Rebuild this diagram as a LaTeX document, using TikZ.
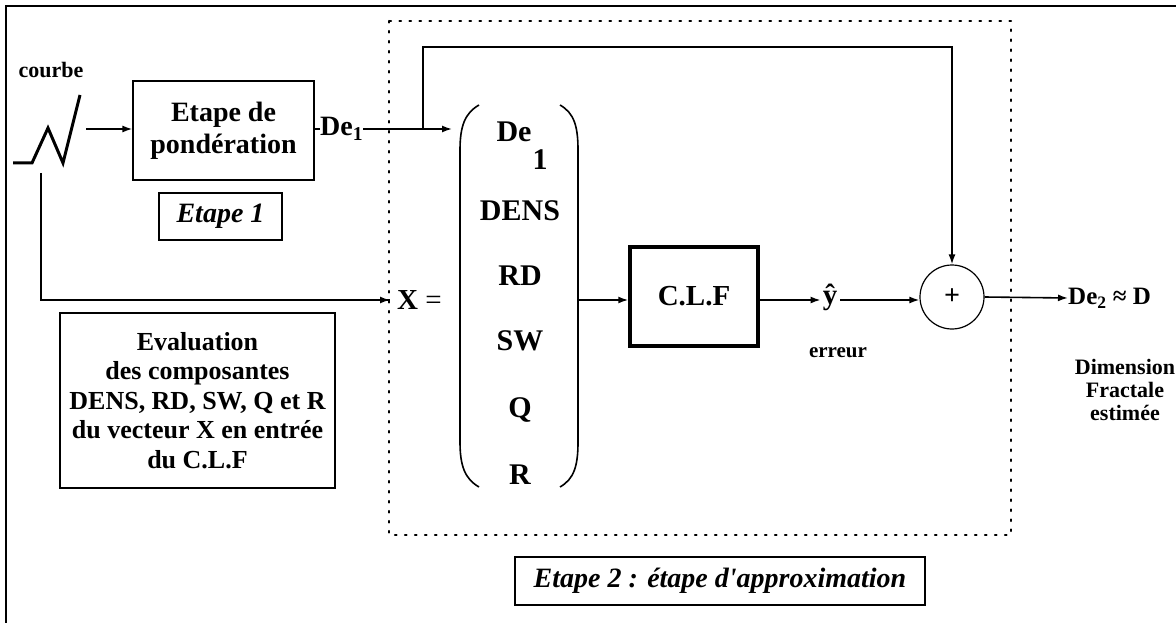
\documentclass[tikz,border=0pt]{standalone}
\usepackage{fontspec}
\setmainfont{Liberation Serif}
\usetikzlibrary{arrows.meta}
\newcommand\fs[2]{\fontsize{#1pt}{#2pt}\selectfont}
\tikzset{
  arr/.style={-{Latex[length=10pt,width=7pt]}, line width=1.6pt},
  ln/.style={line width=1.6pt},
  txt/.style={inner sep=0pt, font=\bfseries\fs{27}{31}},
  mtxt/.style={inner sep=0pt, font=\bfseries\fs{30}{34}},
  small/.style={inner sep=0pt, font=\bfseries\fs{21}{24}, align=center},
  thinbox/.style={draw, line width=1.2pt, inner sep=0pt, align=center},
  thickbox/.style={draw, line width=3.5pt, inner sep=0pt, align=center},
  dotbox/.style={line width=2.2pt, dash pattern=on 1.5pt off 8.5pt, line cap=round},
}
\begin{document}
\begin{tikzpicture}[x=1pt,y=-1pt]
\useasboundingbox (0,0) rectangle (1176,623);
% outer frame
\draw[line width=2.2pt] (6,623) -- (6,6) -- (1176,6);
% dotted box
\draw[dotbox] (389,21) rectangle (1011,535);

% curve symbol
\node[small, font=\bfseries\fs{22}{25}] (courbe) at (51,70) {courbe};
\draw[line width=3pt, line join=miter] (13,163) -- (32,163) -- (48,128) -- (63,163) -- (80,95);
\coordinate (cvout) at (86,129);
\coordinate (cvdown) at (41,173);

% etape de ponderation
\node[thinbox, minimum width=181pt, minimum height=99pt, font=\bfseries\fs{28}{32}] (pond) at (223.5,130.5) {Etape de\\pondération};
\draw[arr] (cvout) -- (cvout -| pond.west);
\node[thinbox, minimum width=123pt, minimum height=47pt, font=\bfseries\itshape\fs{28}{32}] (et1) at (220.5,216.5) {Etape 1};

% De1
\node[txt, anchor=west, font=\bfseries\fs{28}{32}] (de1) at (320,129) {De\textsubscript{1}};
\draw[ln] (pond.east |- de1.west) -- (de1.west);
\coordinate (a1) at (452,129);
\coordinate (j) at (423,129);
\draw[arr] (de1.east) -- (a1);

% matrix
\node[mtxt] (mDe) at (514,132) {De};
\node[mtxt] (mOne) at (540,160) {1};
\node[mtxt] (mDENS) at (520,211) {DENS};
\node[mtxt] (mRD) at (520,276) {RD};
\node[mtxt] (mSW) at (520,341) {SW};
\node[mtxt] (mQ) at (520,410) {Q};
\node[mtxt] (mR) at (520,475) {R};
\draw[line width=1.6pt] (479,105) .. controls (465,113) and (460,126) .. (460,150) -- (460,442) .. controls (460,466) and (465,479) .. (479,487);
\draw[line width=1.6pt] (560,105) .. controls (574,113) and (578,126) .. (578,150) -- (578,442) .. controls (578,466) and (574,479) .. (560,487);
\coordinate (mr) at (578,300);

% X =
\node[inner sep=0pt, anchor=west, font=\fs{29}{33}] (X) at (397,300) {\textbf{X} =};
\coordinate (xin) at (390,300);
\draw[ln] (cvdown) |- (xin);
\draw[arr] ([xshift=-1pt]cvdown |- xin) -- (xin);

% C.L.F
\node[thickbox, minimum width=128pt, minimum height=99pt, font=\bfseries\fs{29}{33}] (clf) at (694,296.5) {C.L.F};
\draw[arr] (mr) -- (clf.west |- mr);

% y hat
\node[txt, font=\bfseries\fs{29}{33}] (yh) at (830,297) {ŷ};
\draw[arr] (clf.east |- mr) -- ([xshift=-2pt]yh.west |- mr);
\node[small] (err) at (838,353) {erreur};

% sum
\node[circle, draw, line width=1.2pt, minimum size=64pt, inner sep=0pt, font=\bfseries\fs{28}{32}] (sum) at (952,297) {+};
\draw[arr] ([xshift=3pt]yh.east |- mr) -- (sum.west |- mr);
\coordinate (fb) at (952,47);
\draw[arr] (j) |- (fb) -- (sum.north);

% output
\node[txt, anchor=west, font=\bfseries\fs{25}{29}] (de2) at (1068,298) {De\textsubscript{2} ≈ D};
\draw[arr] (sum.east) -- (de2.west);
\node[small, font=\bfseries\fs{22}{23}] (dim) at (1125,390) {Dimension\\Fractale\\estimée};

% evaluation
\node[thinbox, minimum width=275pt, minimum height=175pt, font=\bfseries\fs{26}{29.5}] (eval) at (197.5,400.5) {Evaluation\\des composantes\\DENS, RD, SW, Q et R\\du vecteur X en entrée\\du C.L.F};

% etape 2
\node[thinbox, minimum width=410pt, minimum height=48pt, font=\bfseries\itshape\fs{28}{32}] (et2) at (720,581) {Etape 2 : étape d\textquotesingle approximation};
\end{tikzpicture}
\end{document}
